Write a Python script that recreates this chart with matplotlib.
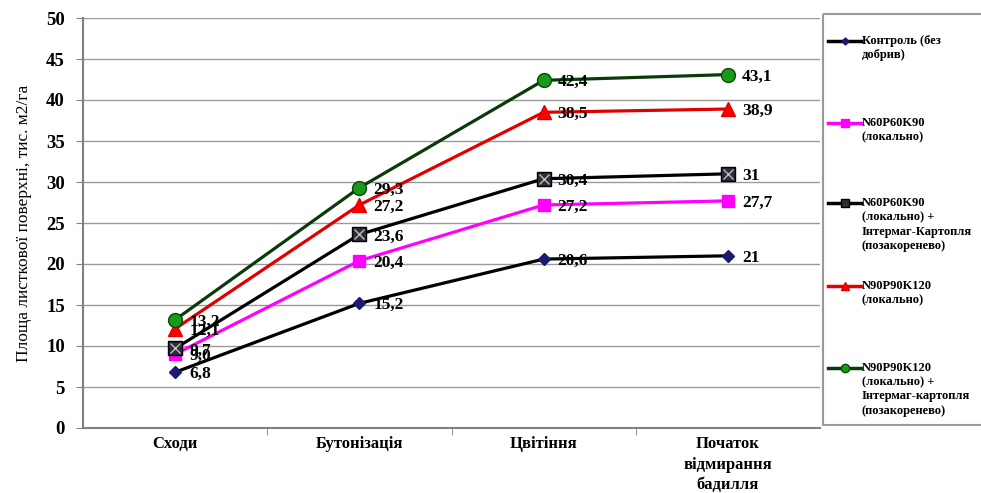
import matplotlib
matplotlib.use("Agg")
import matplotlib.pyplot as plt
from matplotlib.patches import Rectangle
from matplotlib.lines import Line2D
from matplotlib.transforms import offset_copy

stages = ["Сходи", "Бутонізація", "Цвітіння", "Початок\nвідмирання\nбадилля"]

control = [6.8, 15.2, 20.6, 21]
npk60 = [9.0, 20.4, 27.2, 27.7]
npk60_intermag = [9.7, 23.6, 30.4, 31]
npk90 = [12.1, 27.2, 38.5, 38.9]
npk90_intermag = [13.2, 29.3, 42.4, 43.1]

series_labels = [
    "Контроль (без\nдобрив)",
    "N60P60K90\n(локально)",
    "N60P60K90\n(локально) +\nІнтермаг-Картопля\n(позакоренево)",
    "N90P90K120\n(локально)",
    "N90P90K120\n(локально) +\nІнтермаг-картопля\n(позакоренево)",
]

y_ticks = [0, 5, 10, 15, 20, 25, 30, 35, 40, 45, 50]

serif = ["Liberation Serif", "DejaVu Serif"]
plt.rcParams["font.family"] = serif

W, H = 981, 493
fig = plt.figure(figsize=(W / 100, H / 100), dpi=100)
ax = fig.add_axes([83 / W, 1 - 428 / H, (820 - 83) / W, (428 - 18) / H])

styles = [
    dict(color="black", marker="D", ms=6, mfc="#1a1a6e", mec="#1a1a6e"),
    dict(color="#ff00ff", marker="s", ms=9, mfc="#ff00ff", mec="#ff00ff"),
    dict(color="black", marker="s", ms=10, mfc="#2e2e3a", mec="black"),
    dict(color="#e00000", marker="^", ms=10, mfc="#ff0000", mec="#e00000"),
    dict(color="#0a3a0a", marker="o", ms=10, mfc="#1a9a1a", mec="#0a4a0a"),
]
all_series = [control, npk60, npk60_intermag, npk90, npk90_intermag]
x = list(range(len(stages)))

handles = []
for vals, st in zip(all_series, styles):
    ln, = ax.plot(x, vals, lw=2.3, zorder=3, **st)
    handles.append(ln)
    if st["marker"] == "s" and st["mfc"] == "#2e2e3a":
        ax.plot(x, vals, lw=0, marker="x", ms=7, mew=1.0, color="#bbbbbb", zorder=4)
    lab_tr = offset_copy(ax.transData, fig=fig, x=14, y=-2, units="dots")
    for xi, v in zip(x, vals):
        ax.text(xi, v, str(v).replace(".", ","), transform=lab_tr,
                ha="left", va="center", fontsize=12.5, fontweight="bold",
                color="black", zorder=5)

ax.set_xlim(-0.5, 3.5)
ax.set_ylim(0, 50)
ax.set_yticks(y_ticks)
ax.set_yticklabels([str(t) for t in y_ticks], fontsize=13.5, fontweight="bold")
ax.set_xticks(x)
ax.set_xticklabels(stages, fontsize=12, fontweight="bold", linespacing=1.35)
ax.tick_params(axis="x", length=0, pad=6)
ax.set_xticks([0.5, 1.5, 2.5], minor=True)
ax.tick_params(axis="x", which="minor", length=5, color="#808080")
ax.tick_params(axis="y", length=5, color="#808080", pad=8)
ax.grid(axis="y", color="#9a9a9a", lw=1)
ax.set_axisbelow(True)
for s in ["top", "right"]:
    ax.spines[s].set_visible(False)
for s in ["left", "bottom"]:
    ax.spines[s].set_color("#808080")
    ax.spines[s].set_linewidth(1.5)
ax.set_ylabel("Площа листкової поверхні, тис. м2/га", fontsize=12.5, labelpad=10)

# legend panel drawn in pixel coordinates
lax = fig.add_axes([0, 0, 1, 1], facecolor="none")
lax.set_xlim(0, W)
lax.set_ylim(H, 0)
lax.axis("off")
lax.add_patch(Rectangle((823, 14), 200, 411, fill=False, ec="#9a9a9a", lw=1.5, clip_on=False))
legend_y = [41, 123, 203, 286, 368]
for h, lab, yy, st in zip(handles, series_labels, legend_y, styles):
    lax.add_line(Line2D([828, 861], [yy, yy], color=h.get_color(), lw=2.5))
    lax.add_line(Line2D([844.5], [yy], marker=st["marker"], ms=st["ms"] * 0.6,
                        mfc=st["mfc"], mec=st["mec"], lw=0))
    lax.text(862, yy - 6, lab, ha="left", va="top", fontsize=9, fontweight="bold",
             linespacing=1.25)

fig.savefig("out.png", dpi=100)
